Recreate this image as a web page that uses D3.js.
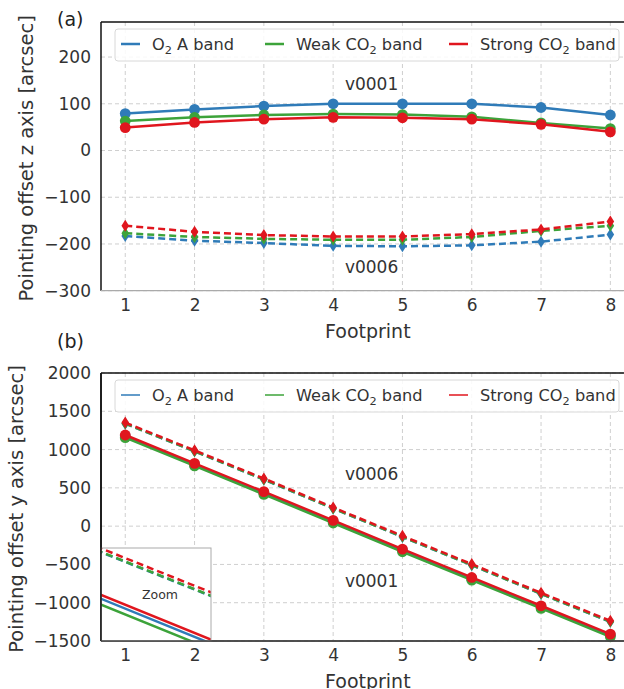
<!DOCTYPE html>
<html>
<head>
<meta charset="utf-8">
<script src="https://cdn.jsdelivr.net/npm/d3@7/dist/d3.min.js"></script>
<style>
	body { margin: 0; background: #fff; }
	svg { font-family: "DejaVu Sans", sans-serif; }
	.grid line { stroke: #cfcfcf; stroke-width: 1; stroke-dasharray: 4,3; }
	.tick text { fill: #333; }
</style>
</head>
<body>
<div id="chart"></div>
<script>
let footprints = [1, 2, 3, 4, 5, 6, 7, 8];
let bandNames = ["O₂ A band", "Weak CO₂ band", "Strong CO₂ band"];
let bandColors = ["#2f7bb8", "#3ca33a", "#e0161e"];

//panel (a): z axis offset
let zTicks = [-300, -200, -100, 0, 100, 200];
let zO2V1 = [79, 88, 95, 100, 100, 100, 92, 76];
let zWeakV1 = [63, 71, 76, 78, 77, 72, 59, 47];
let zStrongV1 = [49, 60, 67, 71, 70, 67, 56, 40];
let zO2V6 = [-183, -193, -198, -204, -205, -203, -195, -180];
let zWeakV6 = [-177, -185, -189, -191, -191, -185, -172, -161];
let zStrongV6 = [-161, -174, -181, -184, -184, -179, -169, -152];

//panel (b): y axis offset
let yTicks = [-1500, -1000, -500, 0, 500, 1000, 1500, 2000];
let yO2V1 = [1176, 806, 436, 62, -314, -684, -1053, -1424];
let yWeakV1 = [1155, 786, 414, 41, -335, -705, -1075, -1445];
let yStrongV1 = [1190, 820, 450, 76, -300, -670, -1040, -1410];
let yO2V6 = [1338, 977, 608, 231, -141, -510, -885, -1250];
let yWeakV6 = [1340, 978, 610, 232, -139, -508, -883, -1248];
let yStrongV6 = [1352, 990, 622, 244, -127, -496, -871, -1236];

let svg = d3.select("#chart").append("svg")
	.attr("width", 624)
	.attr("height", 689);

let fmt = d => d < 0 ? "\u2212" + Math.abs(d) : String(d);

let addBandText = function(sel, name, size) {
	let parts = name.split("₂");
	sel.append("tspan").text(parts[0]);
	if (parts.length > 1) {
		sel.append("tspan").attr("font-size", size * 0.7).attr("dy", 4).text("2");
		sel.append("tspan").attr("dy", -4).text(parts[1]);
	}
};

let diamond = "M0,-6L3.8,0L0,6L-3.8,0Z";

let drawSeries = function(g, x, y, values, color, dashed, marker) {
	let pts = values.map((v, i) => [footprints[i], v]);
	let line = d3.line().x(d => x(d[0])).y(d => y(d[1]));
	g.append("path")
		.attr("d", line(pts))
		.attr("fill", "none")
		.attr("stroke", color)
		.attr("stroke-width", 2.5)
		.attr("stroke-dasharray", dashed ? "7,4" : null);
	if (marker == "circle") {
		g.selectAll(null).data(pts).enter().append("circle")
			.attr("cx", d => x(d[0]))
			.attr("cy", d => y(d[1]))
			.attr("r", 5.4)
			.attr("fill", color);
	} else if (marker == "diamond") {
		g.selectAll(null).data(pts).enter().append("path")
			.attr("d", diamond)
			.attr("transform", d => `translate(${x(d[0])},${y(d[1])})`)
			.attr("fill", color);
	}
};

let drawPanel = function(p) {
	let x = d3.scaleLinear().domain([0.65, 8.35]).range([101, 634.6]);
	let y = d3.scaleLinear().domain(p.yDomain).range([p.bottom, p.top]);
	let g = svg.append("g");

	//grid
	let grid = g.append("g").attr("class", "grid");
	grid.selectAll(null).data(p.ticks).enter().append("line")
		.attr("x1", 101).attr("x2", 624)
		.attr("y1", d => y(d)).attr("y2", d => y(d));
	grid.selectAll(null).data(footprints).enter().append("line")
		.attr("x1", d => x(d)).attr("x2", d => x(d))
		.attr("y1", p.top).attr("y2", p.bottom);

	//axes
	g.append("g")
		.attr("transform", "translate(101,0)")
		.call(d3.axisLeft(y).tickValues(p.ticks).tickFormat(fmt).tickSize(0).tickPadding(10))
		.call(s => s.select(".domain").remove())
		.selectAll("text").attr("font-size", 17).attr("font-family", "DejaVu Sans");
	g.append("g")
		.attr("transform", `translate(0,${p.bottom})`)
		.call(d3.axisBottom(x).tickValues(footprints).tickSize(0).tickPadding(8))
		.call(s => s.select(".domain").remove())
		.selectAll("text").attr("font-size", 17).attr("font-family", "DejaVu Sans");

	//data
	let series = p.series;
	series.forEach(s => drawSeries(g, x, y, s.values, s.color, s.dashed, s.marker));

	//spines
	g.append("line").attr("x1", 101).attr("x2", 624).attr("y1", p.top).attr("y2", p.top)
		.attr("stroke", "#111").attr("stroke-width", 1.5);
	g.append("line").attr("x1", 101).attr("x2", 101).attr("y1", p.top).attr("y2", p.bottom)
		.attr("stroke", "#111").attr("stroke-width", 1.5);
	g.append("line").attr("x1", 101).attr("x2", 624).attr("y1", p.bottom).attr("y2", p.bottom)
		.attr("stroke", p.bottomColor).attr("stroke-width", 1.3);

	//legend
	let leg = g.append("g");
	leg.append("rect")
		.attr("x", 115).attr("y", p.top + 7)
		.attr("width", 504).attr("height", 32)
		.attr("rx", 3)
		.attr("fill", "#fff").attr("fill-opacity", 0.85)
		.attr("stroke", "#d8d8d8");
	let legX = [121, 265, 449];
	bandNames.forEach((name, i) => {
		leg.append("line")
			.attr("x1", legX[i]).attr("x2", legX[i] + 19)
			.attr("y1", p.top + 22).attr("y2", p.top + 22)
			.attr("stroke", bandColors[i])
			.attr("stroke-width", p.legendWidth);
		let t = leg.append("text")
			.attr("x", legX[i] + 31)
			.attr("y", p.top + 28)
			.attr("font-size", 16.2)
			.attr("fill", "#333");
		addBandText(t, name, 16.2);
	});

	//version labels
	p.notes.forEach(n => {
		g.append("text")
			.attr("x", x(n[0])).attr("y", y(n[1]))
			.attr("font-size", 17).attr("fill", "#333")
			.text(n[2]);
	});

	//panel letter and axis titles
	svg.append("text")
		.attr("x", 57).attr("y", p.letterY)
		.attr("font-size", 19).attr("fill", "#222")
		.text(p.letter);
	svg.append("text")
		.attr("x", x(4.5)).attr("y", p.bottom + 47)
		.attr("text-anchor", "middle")
		.attr("font-size", 19).attr("fill", "#333")
		.text("Footprint");
	svg.append("text")
		.attr("transform", `translate(${p.labelX},${(p.top + p.bottom) / 2 + 2}) rotate(-90)`)
		.attr("text-anchor", "middle")
		.attr("font-size", 19.5).attr("fill", "#333")
		.text(p.yLabel);

	return { x: x, y: y };
};

let seriesFor = function(v1, v6) {
	let out = [];
	v6.forEach((vals, i) => out.push({ values: vals, color: bandColors[i], dashed: true, marker: "diamond" }));
	v1.forEach((vals, i) => out.push({ values: vals, color: bandColors[i], dashed: false, marker: "circle" }));
	return out;
};

drawPanel({
	top: 22, bottom: 290.7, yDomain: [-300, 275], ticks: zTicks,
	series: seriesFor([zO2V1, zWeakV1, zStrongV1], [zO2V6, zWeakV6, zStrongV6]),
	bottomColor: "#aaa", legendWidth: 2.5, letter: "(a)", letterY: 26, labelX: 33,
	yLabel: "Pointing offset z axis [arcsec]",
	notes: [[4.17, 130, "v0001"], [4.17, -262, "v0006"]]
});

drawPanel({
	top: 373, bottom: 641, yDomain: [-1500, 2000], ticks: yTicks,
	series: seriesFor([yO2V1, yWeakV1, yStrongV1], [yO2V6, yWeakV6, yStrongV6]),
	bottomColor: "#444", legendWidth: 1.5, letter: "(b)", letterY: 348, labelX: 23,
	yLabel: "Pointing offset y axis [arcsec]",
	notes: [[4.17, 600, "v0006"], [4.17, -797, "v0001"]]
});

//inset zoom of panel (b)
let ix = d3.scaleLinear().domain([1.3, 1.73]).range([101, 211]);
let iy = d3.scaleLinear().domain([915, 1245]).range([641, 548]);
svg.append("clipPath").attr("id", "inset-clip")
	.append("rect").attr("x", 101).attr("y", 548).attr("width", 110).attr("height", 93);
svg.append("rect")
	.attr("x", 101).attr("y", 548).attr("width", 110).attr("height", 93)
	.attr("fill", "#fff");
let inset = svg.append("g").attr("clip-path", "url(#inset-clip)");
seriesFor([yO2V1, yWeakV1, yStrongV1], [yO2V6, yWeakV6, yStrongV6])
	.forEach(s => drawSeries(inset, ix, iy, s.values, s.color, s.dashed, null));
svg.append("rect")
	.attr("x", 101).attr("y", 548).attr("width", 110).attr("height", 93)
	.attr("fill", "none").attr("stroke", "#aaa");
svg.append("text")
	.attr("x", 160).attr("y", 599)
	.attr("text-anchor", "middle")
	.attr("font-size", 12.5).attr("fill", "#333")
	.text("Zoom");
//redraw the spines over the inset
svg.append("line").attr("x1", 101).attr("x2", 101).attr("y1", 373).attr("y2", 641)
	.attr("stroke", "#111").attr("stroke-width", 1.5);
svg.append("line").attr("x1", 101).attr("x2", 624).attr("y1", 641).attr("y2", 641)
	.attr("stroke", "#444").attr("stroke-width", 1.3);
</script>
</body>
</html>
